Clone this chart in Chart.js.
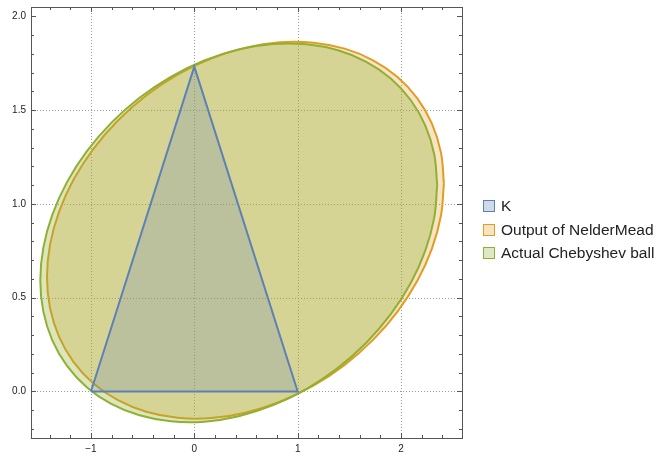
<!DOCTYPE html>
<html>
<head>
<meta charset="utf-8">
<script src="https://cdn.jsdelivr.net/npm/chart.js@4/dist/chart.umd.min.js"></script>
<style>
  html, body { margin: 0; padding: 0; background: #fff; }
  #wrap { position: relative; width: 654px; height: 455px; }
  canvas { position: absolute; left: 0; top: 0; }
  .leg { position: absolute; left: 483px; font: 15.5px "Liberation Sans", Arial, sans-serif; color: #222; white-space: nowrap; }
  .leg span.sw { position: absolute; left: 0; width: 10px; height: 10px; border: 1.5px solid; }
  .leg span.tx { position: absolute; left: 18px; top: -9px; line-height: 18px; }
</style>
</head>
<body>
<div id="wrap">
  <canvas id="c" width="654" height="455"></canvas>
  <div id="legend"></div>
</div>
<script>
// ---- data ----
const seriesNames = ['K', 'Output of NelderMead', 'Actual Chebyshev ball'];

const triangleX = [-1, 1, 0, -1];
const triangleY = [0, 0, 1.732, 0];

const nelderX = [2.415, 2.386, 2.299, 2.158, 1.966, 1.729, 1.455, 1.152, 0.828, 0.495, 0.162, -0.162, -0.465, -0.739, -0.976, -1.168, -1.309, -1.396, -1.425, -1.396, -1.309, -1.168, -0.976, -0.739, -0.465, -0.162, 0.162, 0.495, 0.828, 1.152, 1.455, 1.729, 1.966, 2.158, 2.299, 2.386, 2.415];
const nelderY = [1.110, 1.275, 1.428, 1.563, 1.677, 1.766, 1.828, 1.860, 1.862, 1.833, 1.775, 1.689, 1.578, 1.445, 1.294, 1.130, 0.958, 0.783, 0.610, 0.445, 0.292, 0.157, 0.043, -0.046, -0.108, -0.140, -0.142, -0.113, -0.055, 0.031, 0.142, 0.275, 0.426, 0.590, 0.762, 0.937, 1.110];

const chebX = [2.350, 2.321, 2.234, 2.093, 1.901, 1.664, 1.390, 1.087, 0.763, 0.430, 0.097, -0.227, -0.530, -0.804, -1.041, -1.233, -1.374, -1.461, -1.490, -1.461, -1.374, -1.233, -1.041, -0.804, -0.530, -0.227, 0.097, 0.430, 0.763, 1.087, 1.390, 1.664, 1.901, 2.093, 2.234, 2.321, 2.350];
const chebY = [1.100, 1.265, 1.419, 1.554, 1.669, 1.758, 1.819, 1.851, 1.853, 1.824, 1.765, 1.678, 1.566, 1.432, 1.280, 1.115, 0.942, 0.766, 0.592, 0.427, 0.273, 0.138, 0.023, -0.066, -0.127, -0.159, -0.161, -0.132, -0.073, 0.014, 0.126, 0.260, 0.412, 0.577, 0.750, 0.926, 1.100];

const xMajorTicks = [-1, 0, 1, 2];
const xMajorLabels = ['\u22121', '0', '1', '2'];
const yMajorTicks = [0, 0.5, 1, 1.5, 2];
const yMajorLabels = ['0.0', '0.5', '1.0', '1.5', '2.0'];
const xMinorTicks = [-1.4, -1.2, -0.8, -0.6, -0.4, -0.2, 0.2, 0.4, 0.6, 0.8, 1.2, 1.4, 1.6, 1.8, 2.2, 2.4];
const yMinorTicks = [-0.2, -0.1, 0.1, 0.2, 0.3, 0.4, 0.6, 0.7, 0.8, 0.9, 1.1, 1.2, 1.3, 1.4, 1.6, 1.7, 1.8, 1.9];
const xGrid = [-1, 0, 1, 2];
const yGrid = [0, 0.5, 1, 1.5];

// ---- styles ----
const strokeColors = ['rgb(94,129,181)', 'rgb(225,156,36)', 'rgb(143,176,50)'];
const fillColors = ['rgba(94,129,181,0.22)', 'rgba(225,156,36,0.27)', 'rgba(143,176,50,0.32)'];
const swatchFills = ['rgb(207,217,233)', 'rgb(248,227,192)', 'rgb(222,232,198)'];

const zip = (xs, ys) => xs.map((x, i) => ({ x: x, y: ys[i] }));

const framePlugin = {
  id: 'mmaFrame',
  beforeDatasetsDraw(chart) {
    const { ctx, chartArea: a, scales: { x, y } } = chart;
    ctx.save();
    ctx.strokeStyle = 'rgba(120,120,120,0.75)';
    ctx.lineWidth = 1;
    ctx.setLineDash([1, 2]);
    xGrid.forEach(v => {
      const px = Math.round(x.getPixelForValue(v)) + 0.5;
      ctx.beginPath(); ctx.moveTo(px, a.top); ctx.lineTo(px, a.bottom); ctx.stroke();
    });
    yGrid.forEach(v => {
      const py = Math.round(y.getPixelForValue(v)) + 0.5;
      ctx.beginPath(); ctx.moveTo(a.left, py); ctx.lineTo(a.right, py); ctx.stroke();
    });
    ctx.restore();
  },
  afterDatasetsDraw(chart) {
    const { ctx, chartArea: a, scales: { x, y } } = chart;
    ctx.save();
    ctx.strokeStyle = '#555';
    ctx.lineWidth = 1;
    ctx.setLineDash([]);
    ctx.strokeRect(Math.round(a.left) + 0.5, Math.round(a.top) + 0.5, Math.round(a.right - a.left), Math.round(a.bottom - a.top));
    const tickX = (v, len) => {
      const px = Math.round(x.getPixelForValue(v)) + 0.5;
      ctx.beginPath();
      ctx.moveTo(px, a.bottom); ctx.lineTo(px, a.bottom - len);
      ctx.moveTo(px, a.top); ctx.lineTo(px, a.top + len);
      ctx.stroke();
    };
    const tickY = (v, len) => {
      const py = Math.round(y.getPixelForValue(v)) + 0.5;
      ctx.beginPath();
      ctx.moveTo(a.left, py); ctx.lineTo(a.left + len, py);
      ctx.moveTo(a.right, py); ctx.lineTo(a.right - len, py);
      ctx.stroke();
    };
    xMajorTicks.forEach(v => tickX(v, 5));
    xMinorTicks.forEach(v => tickX(v, 3));
    yMajorTicks.forEach(v => tickY(v, 5));
    yMinorTicks.forEach(v => tickY(v, 3));

    ctx.fillStyle = '#222';
    ctx.font = '10px "Liberation Sans", Arial, sans-serif';
    ctx.textAlign = 'center';
    ctx.textBaseline = 'middle';
    xMajorTicks.forEach((v, i) => {
      ctx.fillText(xMajorLabels[i], x.getPixelForValue(v), a.bottom + 11);
    });
    ctx.textAlign = 'right';
    yMajorTicks.forEach((v, i) => {
      ctx.fillText(yMajorLabels[i], a.left - 5, y.getPixelForValue(v));
    });
    ctx.restore();
  }
};

const common = { showLine: true, pointRadius: 0, pointHoverRadius: 0, borderWidth: 2, fill: 'shape' };

new Chart(document.getElementById('c'), {
  type: 'scatter',
  data: {
    datasets: [
      Object.assign({}, common, { label: seriesNames[0], data: zip(triangleX, triangleY), borderColor: strokeColors[0], backgroundColor: fillColors[0], tension: 0, order: 0 }),
      Object.assign({}, common, { label: seriesNames[1], data: zip(nelderX, nelderY), borderColor: strokeColors[1], backgroundColor: fillColors[1], tension: 0.4, order: 2 }),
      Object.assign({}, common, { label: seriesNames[2], data: zip(chebX, chebY), borderColor: strokeColors[2], backgroundColor: fillColors[2], tension: 0.4, order: 1 })
    ]
  },
  options: {
    responsive: false,
    animation: false,
    layout: { padding: { left: 0, top: 7, right: 192, bottom: 0 } },
    plugins: { legend: { display: false }, tooltip: { enabled: false } },
    scales: {
      x: {
        type: 'linear', min: -1.58, max: 2.59,
        grid: { display: false }, border: { display: false },
        ticks: { display: false },
        afterFit: s => { s.height = 17; }
      },
      y: {
        type: 'linear', min: -0.248, max: 2.05,
        grid: { display: false }, border: { display: false },
        ticks: { display: false },
        afterFit: s => { s.width = 31; }
      }
    }
  },
  plugins: [framePlugin]
});

// legend (HTML text)
const legendTops = [206, 230, 253];
const legendEl = document.getElementById('legend');
seriesNames.forEach((name, i) => {
  const d = document.createElement('div');
  d.className = 'leg';
  d.style.top = legendTops[i] + 'px';
  const sw = document.createElement('span');
  sw.className = 'sw';
  sw.style.top = '-6.5px';
  sw.style.borderColor = strokeColors[i];
  sw.style.background = swatchFills[i];
  const tx = document.createElement('span');
  tx.className = 'tx';
  tx.textContent = name;
  d.appendChild(sw); d.appendChild(tx);
  legendEl.appendChild(d);
});
</script>
</body>
</html>
